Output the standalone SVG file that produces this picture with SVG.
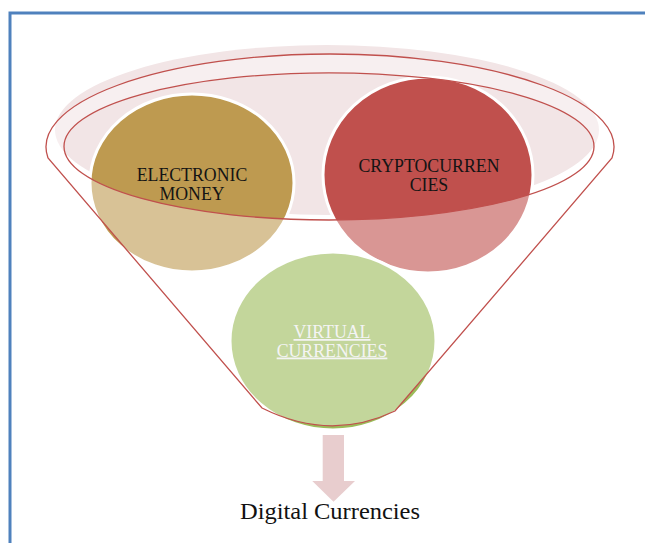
<svg xmlns="http://www.w3.org/2000/svg" width="645" height="543" viewBox="0 0 645 543">
  <style>
    .lbl { font-family: "Liberation Serif", "Times New Roman", serif; font-size: 17.8px; text-anchor: middle; }
    .dark { fill: #141414; }
    .light { fill: #f4f4f4; text-decoration: underline; }
    .bubble { stroke: #ffffff; stroke-width: 3; }
    .rim { fill: none; stroke: #c0504d; stroke-width: 1.3; }
  </style>

  <rect width="645" height="543" fill="#ffffff"/>
  <!-- page frame -->
  <path d="M10,543 V13 H645" fill="none" stroke="#4f81bd" stroke-width="3"/>

  <!-- funnel mouth glow behind the items -->
  <ellipse id="funnel-glow" cx="327" cy="130" rx="272" ry="85" fill="#f2e5e6"/>

  <g id="electronic-money">
    <ellipse class="bubble" cx="192" cy="183" rx="102" ry="89" fill="#be9a50"/>
  </g>
  <g id="cryptocurrencies">
    <ellipse class="bubble" cx="428" cy="175" rx="105" ry="98" fill="#c0504d"/>
  </g>
  <g id="virtual-currencies">
    <ellipse class="bubble" cx="333" cy="341" rx="103" ry="89" fill="#9bbb59"/>
  </g>

  <!-- glass body of the funnel: lightens everything below the mouth -->
  <g id="funnel">
    <path d="M48,158 A284,93 0 1 1 612,158 L395,411 Q330,442 262,408 Z M64,146.4 A265,73.6 0 1 0 594,146.4 A265,73.6 0 1 0 64,146.4 Z"
          fill="#ffffff" fill-opacity="0.4" fill-rule="evenodd"/>
    <path class="rim" d="M48,158 A284,93 0 1 1 612,158 L395,411 Q330,442 262,408 Z"/>
    <ellipse class="rim" cx="329" cy="146.4" rx="265" ry="73.6"/>
  </g>

  <!-- item labels -->
  <g id="labels">
    <text class="lbl dark" x="192" y="181">ELECTRONIC</text>
    <text class="lbl dark" x="192" y="199.5">MONEY</text>
    <text class="lbl dark" x="429" y="172">CRYPTOCURREN</text>
    <text class="lbl dark" x="429" y="190.5">CIES</text>
    <text class="lbl light" x="332" y="338">VIRTUAL</text>
    <text class="lbl light" x="332" y="356.5">CURRENCIES</text>
  </g>

  <g id="connectors">
    <path d="M322.7,435 H344 V481 H355 L333.5,501.7 L312.3,481 H322.7 Z" fill="#e8cdce"/>
  </g>

  <g id="result">
    <text x="330" y="519" font-family="'Liberation Serif', 'Times New Roman', serif" font-size="24" text-anchor="middle" fill="#111111" textLength="180" lengthAdjust="spacingAndGlyphs">Digital Currencies</text>
  </g>
</svg>
